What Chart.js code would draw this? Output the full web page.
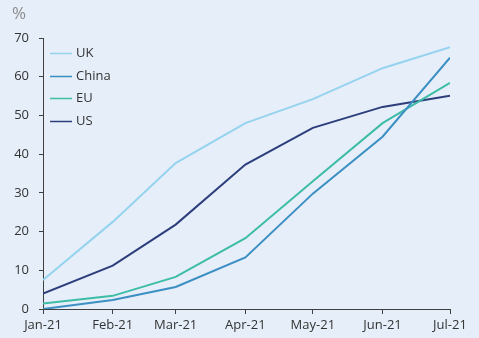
<!DOCTYPE html>
<html>
<head>
<meta charset="utf-8">
<script src="https://cdn.jsdelivr.net/npm/chart.js@4/dist/chart.umd.min.js"></script>
<style>
	html, body { margin: 0; padding: 0; background: #e6eef9; }
	#wrap { width: 479px; height: 338px; position: relative; }
</style>
</head>
<body>
<div id="wrap"><canvas id="vax-chart"></canvas></div>
<script>
// months and their day offset from 1 Jan 2021
const monthLabels = ['Jan-21', 'Feb-21', 'Mar-21', 'Apr-21', 'May-21', 'Jun-21', 'Jul-21'];
const monthDays   = [0, 31, 59, 90, 120, 151, 181];

const ukValues    = [7.5, 22.5, 37.7, 48.0, 54.2, 62.2, 67.6];
const chinaValues = [0.0, 2.3, 5.7, 13.3, 29.8, 44.5, 64.9];
const euValues    = [1.4, 3.4, 8.3, 18.3, 33.0, 48.0, 58.4];
const usValues    = [4.0, 11.2, 21.8, 37.3, 46.8, 52.2, 55.1];

const yTicks = [0, 10, 20, 30, 40, 50, 60, 70];

const axisColour = '#404040';
const textColour = '#333333';
const fontFamily = '"Open Sans", "Liberation Sans", sans-serif';

function toPoints( values) {
	return values.map( (v, i) => ({ x: monthDays[i], y: v }));
}

function series( label, values, colour) {
	return {
		label: label,
		data: toPoints( values),
		borderColor: colour,
		backgroundColor: colour,
		borderWidth: 2,
		pointRadius: 0,
		tension: 0
	};
}

// "%" unit label above the y axis
const unitLabel = {
	id: 'unitLabel',
	afterDraw( chart) {
		const ctx = chart.ctx;
		ctx.save();
		ctx.fillStyle = '#8c8c8c';
		ctx.font = '17px ' + fontFamily;
		ctx.textBaseline = 'middle';
		ctx.fillText( '%', 12, 14);
		ctx.restore();
	}
};

// legend drawn inside the plot, top left, one row per dataset
const insideLegend = {
	id: 'insideLegend',
	afterDraw( chart) {
		const ctx = chart.ctx;
		const area = chart.chartArea;
		const rowGap = 22.5;
		ctx.save();
		ctx.font = '13px ' + fontFamily;
		ctx.textBaseline = 'middle';
		chart.data.datasets.forEach( function( ds, i) {
			var y = Math.round( area.top + 15 + i * rowGap) + 0.5;
			ctx.strokeStyle = ds.borderColor;
			ctx.lineWidth = 1.5;
			ctx.beginPath();
			ctx.moveTo( area.left + 7, y);
			ctx.lineTo( area.left + 29, y);
			ctx.stroke();
			ctx.fillStyle = textColour;
			ctx.fillText( ds.label, area.left + 33, y);
		});
		ctx.restore();
	}
};

const ctx = document.getElementById('vax-chart').getContext('2d');
const chart = new Chart(ctx, {
	type: 'line',
	plugins: [unitLabel, insideLegend],
	data: {
		datasets: [
			series( 'UK',    ukValues,    '#95d3ef'),
			series( 'China', chinaValues, '#3b8fc3'),
			series( 'EU',    euValues,    '#3dbca6'),
			series( 'US',    usValues,    '#2c3e7c')
		]
	},
	options: {
		responsive: true,
		maintainAspectRatio: false,
		animation: false,
		layout: {
			padding: { top: 38, right: 29, bottom: 0, left: 0 }
		},
		plugins: {
			legend: { display: false },
			tooltip: { enabled: false }
		},
		scales: {
			x: {
				type: 'linear',
				min: monthDays[0],
				max: monthDays[monthDays.length - 1],
				afterBuildTicks: function( scale) {
					scale.ticks = monthDays.map( d => ({ value: d }));
				},
				afterFit: function( scale) {
					scale.height = 29;
				},
				ticks: {
					autoSkip: false,
					maxRotation: 0,
					padding: 3,
					color: textColour,
					font: { family: fontFamily, size: 13 },
					callback: function( value, index) {
						return monthLabels[index];
					}
				},
				grid: {
					drawOnChartArea: false,
					tickLength: 5,
					color: axisColour
				},
				border: { color: axisColour, width: 1 }
			},
			y: {
				min: 0,
				max: 70,
				afterBuildTicks: function( scale) {
					scale.ticks = yTicks.map( v => ({ value: v }));
				},
				afterFit: function( scale) {
					scale.width = 43;
				},
				ticks: {
					padding: 10,
					color: textColour,
					font: { family: fontFamily, size: 13 }
				},
				grid: {
					drawOnChartArea: false,
					tickLength: 4,
					color: axisColour
				},
				border: { color: axisColour, width: 1 }
			}
		}
	}
});
</script>
</body>
</html>
